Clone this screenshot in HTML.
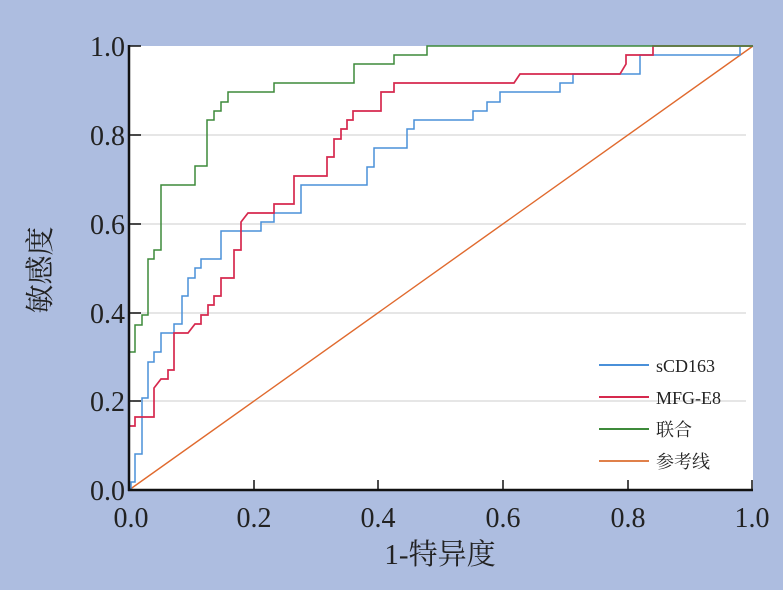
<!DOCTYPE html>
<html><head><meta charset="utf-8"><style>
html,body{margin:0;padding:0;background:#adbde0;}
svg{display:block;}
text{font-family:"Liberation Serif","Noto Serif CJK SC",serif;fill:#222;}
</style></head><body>
<svg width="783" height="590" viewBox="0 0 783 590" xmlns="http://www.w3.org/2000/svg">
<rect width="783" height="590" fill="#adbde0"/>
<rect x="129" y="46" width="624" height="444" fill="#fff"/>
<g stroke="#dedede" stroke-width="1.5">
<line x1="133" y1="401" x2="746" y2="401"/>
<line x1="133" y1="313" x2="746" y2="313"/>
<line x1="133" y1="224" x2="746" y2="224"/>
<line x1="133" y1="135" x2="746" y2="135"/>
</g>
<line x1="129" y1="490" x2="753" y2="46" stroke="#e06a2e" stroke-width="1.4"/>
<polyline fill="none" stroke="#4a90d9" stroke-width="1.5" points="131,490 131,482 135,482 135,454 142,454 142,398 148,398 148,362 154,362 154,352 161,352 161,333 174,333 174,324 182,324 182,296 188,296 188,278 195,278 195,268 201,268 201,259 221,259 221,231 261,231 261,222 274,222 274,213 301,213 301,185 367,185 367,167 374,167 374,148 407,148 407,129 414,129 414,120 473,120 473,111 487,111 487,102 500,102 500,92 560,92 560,83 573,83 573,74 640,74 640,55 740,55 740,46 753,46"/>
<polyline fill="none" stroke="#d6294e" stroke-width="1.7" points="129,426 135,426 135,417 154,417 154,388 161,379 168,379 168,370 174,370 174,333 188,333 195,324 201,324 201,315 208,315 208,305 214,305 214,296 221,296 221,278 234,278 234,250 241,250 241,222 248,213 274,213 274,204 294,204 294,176 327,176 327,157 334,157 334,139 341,139 341,129 347,129 347,120 353,120 353,111 381,111 381,92 394,92 394,83 514,83 520,74 620,74 626,64 626,55 653,55 653,46 753,46"/>
<polyline fill="none" stroke="#3d8a3a" stroke-width="1.5" points="129,490 129,352 135,352 135,325 142,325 142,315 148,315 148,259 154,259 154,250 161,250 161,185 195,185 195,166 207,166 207,120 214,120 214,111 221,111 221,102 228,102 228,92 274,92 274,83 354,83 354,64 394,64 394,55 427,55 427,46 753,46"/>
<g stroke="#111" stroke-width="2.5" fill="none">
<line x1="129" y1="45" x2="129" y2="491"/>
<line x1="128" y1="490" x2="753" y2="490"/>
</g>
<g stroke="#111" stroke-width="1.5">
<line x1="129" y1="401" x2="141" y2="401"/><line x1="129" y1="313" x2="141" y2="313"/>
<line x1="129" y1="224" x2="141" y2="224"/><line x1="129" y1="135" x2="141" y2="135"/>
<line x1="129" y1="46" x2="141" y2="46"/>
<line x1="254" y1="490" x2="254" y2="480"/><line x1="378" y1="490" x2="378" y2="480"/>
<line x1="503" y1="490" x2="503" y2="480"/><line x1="628" y1="490" x2="628" y2="480"/>
<line x1="752" y1="490" x2="752" y2="480"/>
</g>
<g font-size="28" text-anchor="end">
<text x="125" y="500">0.0</text><text x="125" y="411">0.2</text><text x="125" y="323">0.4</text>
<text x="125" y="234">0.6</text><text x="125" y="145">0.8</text><text x="125" y="56">1.0</text>
</g>
<g font-size="28" text-anchor="middle">
<text x="131" y="527">0.0</text><text x="254" y="527">0.2</text><text x="378" y="527">0.4</text>
<text x="503" y="527">0.6</text><text x="628" y="527">0.8</text><text x="752" y="527">1.0</text>
</g>
<text x="440" y="564" font-size="29" text-anchor="middle">1-特异度</text>
<text transform="translate(50,270) rotate(-90)" font-size="29" text-anchor="middle">敏感度</text>
<g stroke-width="2">
<line x1="599" y1="365" x2="649" y2="365" stroke="#4a90d9"/>
<line x1="599" y1="397" x2="649" y2="397" stroke="#d6294e"/>
<line x1="599" y1="429" x2="649" y2="429" stroke="#3d8a3a"/>
<line x1="599" y1="461" x2="649" y2="461" stroke="#e0804a"/>
</g>
<g font-size="18">
<text x="656" y="372">sCD163</text><text x="656" y="404">MFG-E8</text>
<text x="656" y="436">联合</text><text x="656" y="468">参考线</text>
</g>
</svg>
</body></html>
